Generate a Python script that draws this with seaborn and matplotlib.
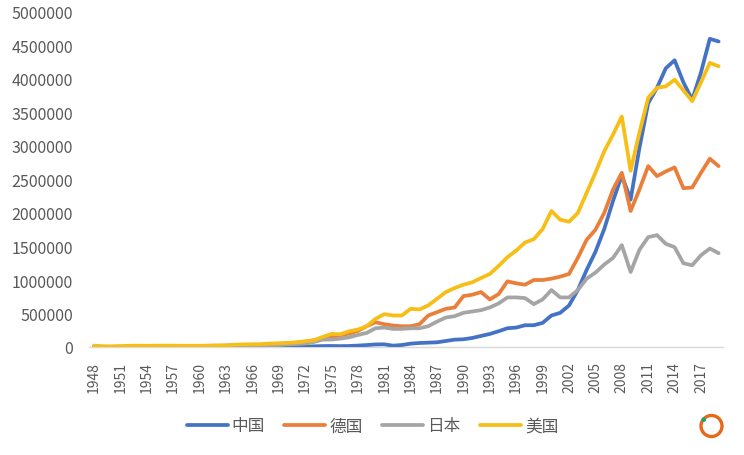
import numpy as np
import pandas as pd
import matplotlib
matplotlib.use("Agg")
import matplotlib.pyplot as plt
from matplotlib.patches import Circle
import seaborn as sns

years = list(range(1948, 2020))
china = [2000, 2000, 2000, 3000, 3000, 3000, 3000, 3000, 3000, 3000, 3000, 4000, 4000, 3000, 3000, 3000, 3000, 4000,
         4000, 4000, 4000, 4000, 5000, 5000, 6000, 10000, 14000, 15000, 13000, 15000, 21000, 29000, 38000,
         40000, 20000, 30000, 50000, 60000, 65000, 70000, 90000, 110000, 115000, 135000, 165000, 195000, 235000,
         280000, 290000, 325000, 325000, 360000, 470000, 510000, 620000, 850000, 1150000, 1420000, 1760000,
         2180000, 2560000, 2200000, 2970000, 3640000, 3870000, 4160000, 4280000, 3950000, 3690000, 4100000,
         4600000, 4560000]
germany = [1000, 1000, 2000, 5000, 6000, 7000, 8000, 9000, 11000, 13000, 14000, 15000, 17000, 19000, 21000, 22000,
           26000, 30000, 32000, 33000, 37000, 44000, 56000, 64000, 78000, 100000, 135000, 150000, 175000,
           200000, 240000, 310000, 370000, 340000, 320000, 310000, 310000, 340000, 470000, 520000, 570000,
           590000, 760000, 780000, 820000, 710000, 790000, 980000, 950000, 930000, 1000000, 1000000, 1020000,
           1050000, 1090000, 1330000, 1600000, 1750000, 2000000, 2350000, 2600000, 2030000, 2350000, 2700000,
           2550000, 2620000, 2680000, 2370000, 2380000, 2600000, 2810000, 2700000]
japan = [1000, 1000, 1000, 2000, 3000, 3000, 3000, 4000, 5000, 6000, 6000, 7000, 8000, 10000, 10000, 11000, 13000,
         16000, 18000, 20000, 24000, 29000, 38000, 44000, 52000, 75000, 110000, 112000, 125000, 145000, 180000,
         210000, 280000, 290000, 270000, 270000, 280000, 280000, 310000, 380000, 440000, 460000, 510000, 530000,
         550000, 590000, 650000, 740000, 740000, 730000, 640000, 710000, 850000, 740000, 740000, 850000,
         1020000, 1110000, 1230000, 1330000, 1520000, 1120000, 1450000, 1640000, 1670000, 1540000, 1490000,
         1250000, 1220000, 1370000, 1470000, 1400000]
usa = [20000, 12000, 10000, 12000, 18000, 20000, 18000, 20000, 20000, 20000, 18000, 18000, 18000, 18000, 20000,
       22000, 35000, 38000, 40000, 42000, 52000, 55000, 62000, 70000, 85000, 100000, 150000, 195000, 190000,
       235000, 260000, 310000, 420000, 490000, 470000, 470000, 570000, 560000, 620000, 720000, 820000, 880000,
       930000, 965000, 1030000, 1090000, 1210000, 1340000, 1440000, 1560000, 1610000, 1760000, 2030000, 1900000,
       1870000, 2000000, 2300000, 2600000, 2920000, 3170000, 3440000, 2630000, 3200000, 3720000, 3870000,
       3890000, 3990000, 3830000, 3670000, 3950000, 4240000, 4190000]
series_names = ["中国", "德国", "日本", "美国"]
series_colors = ["#4472C4", "#E97F3A", "#A5A5A5", "#F7BE16"]
y_ticks = [0, 500000, 1000000, 1500000, 2000000, 2500000, 3000000, 3500000, 4000000, 4500000, 5000000]
x_ticks = years[::3][:24]

sns.set_theme(style="white")
plt.rcParams["font.family"] = ["Noto Sans CJK SC", "DejaVu Sans"]

df = pd.concat([
    pd.DataFrame({"年份": years, "值": v, "国家": n})
    for n, v in zip(series_names, [china, germany, japan, usa])
])

W, H = 744, 456
fig = plt.figure(figsize=(W / 100, H / 100), dpi=100, facecolor="white")
L, R, T, B = 89.5, 723, 13, 348
ax = fig.add_axes([L / W, 1 - B / H, (R - L) / W, (B - T) / H])

sns.lineplot(data=df, x="年份", y="值", hue="国家", hue_order=series_names,
             palette=series_colors, linewidth=2.7, ax=ax, legend=True, errorbar=None)
for ln in ax.lines:
    ln.set_solid_capstyle("round")
    ln.set_solid_joinstyle("round")

ax.set_xlim(1947.5, 2019.5)
ax.set_ylim(0, 5000000)
ax.set_xlabel("")
ax.set_ylabel("")
ax.set_yticks(y_ticks)
ax.set_yticklabels([str(v) for v in y_ticks], fontsize=11.5, color="#595959")
ax.set_xticks(x_ticks)
ax.set_xticklabels([str(v) for v in x_ticks], rotation=90, fontsize=10, color="#595959")
ax.tick_params(axis="both", length=0)
ax.tick_params(axis="x", pad=10)
ax.tick_params(axis="y", pad=12)
for s in ["top", "right", "left"]:
    ax.spines[s].set_visible(False)
ax.spines["bottom"].set_color("#D9D9D9")
ax.spines["bottom"].set_linewidth(1)
ax.spines["bottom"].set_zorder(0)
ax.grid(False)
ax.patch.set_alpha(0)

handles, labels = ax.get_legend_handles_labels()
leg = ax.legend(handles, labels, ncol=4, frameon=False, loc="center",
                bbox_to_anchor=((372.5 - L) / (R - L), 1 - (427 - T) / (B - T)),
                fontsize=12, labelcolor="#595959", handlelength=2.46,
                columnspacing=1.17, handletextpad=0.24, borderpad=0)
for h in leg.get_lines():
    h.set_linewidth(2.7)

# Watermark logo, lower right
fig_ax = fig.add_axes([0, 0, 1, 1], facecolor="none")
fig_ax.set_xlim(0, W)
fig_ax.set_ylim(H, 0)
fig_ax.axis("off")
fig_ax.add_patch(Circle((711.5, 427), 10.5, fill=False, ec="#E8681A", lw=2.4))
fig_ax.add_patch(Circle((703.7, 420.7), 2.3, fc="#1FA36A", ec="none"))

fig.savefig("out.png", dpi=100, facecolor="white")
